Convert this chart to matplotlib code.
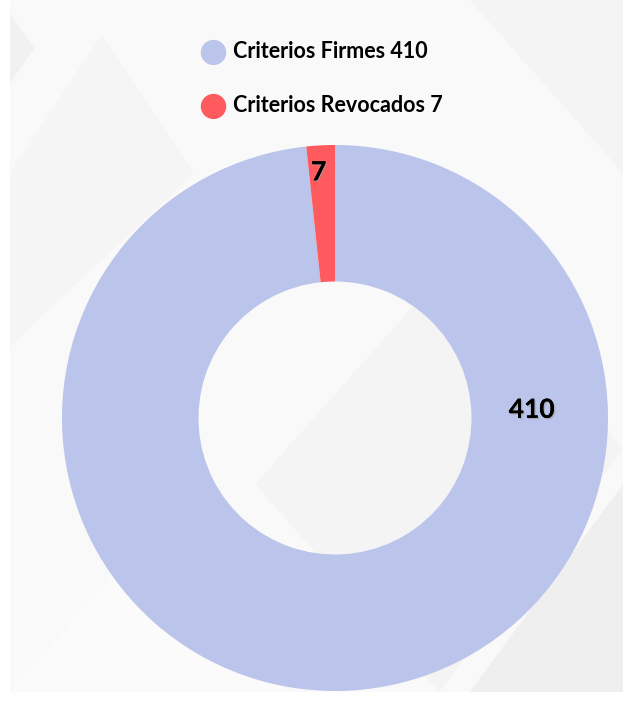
import numpy as np
import matplotlib.pyplot as plt
from matplotlib.patches import Polygon
import matplotlib.patheffects as pe

labels = ['Criterios Firmes', 'Criterios Revocados']
values = [410, 7]
colors = ['#bbc4ea', '#ff5a5e']

W, H = 623, 702
fig = plt.figure(figsize=(W / 100, H / 100), dpi=100)
fig.patch.set_facecolor('white')

# background panel with soft diagonal shapes
bg = fig.add_axes([10 / W, 10 / H, 1 - 10 / W, 1 - 10 / H])
bg.set_xlim(0, 1)
bg.set_ylim(0, 1)
bg.axis('off')
bg.add_patch(plt.Rectangle((0, 0), 1, 1, color='#f9f9f9', zorder=0))
shapes = [
    ([(0.0, 0.75), (0.15, 0.95), (0.3, 0.75), (0.0, 0.5)], '#f5f5f5'),
    ([(0.4, 0.3), (0.75, 0.65), (1.0, 0.35), (0.7, 0.0)], '#f4f4f4'),
    ([(0.75, 0.0), (1.0, 0.3), (1.0, 0.0)], '#efefef'),
    ([(0.0, 0.0), (0.25, 0.25), (0.45, 0.0)], '#fbfbfb'),
    ([(0.75, 1.0), (1.0, 0.75), (1.0, 1.0)], '#f4f4f4'),
    ([(0.0, 0.88), (0.04, 0.93), (0.0, 0.98)], '#f1f1f1'),
]
for pts, c in shapes:
    bg.add_patch(Polygon(pts, closed=True, color=c, zorder=1, lw=0))

# donut
cx, cy, r = 335, 418, 273
ax = fig.add_axes([(cx - r) / W, 1 - (cy + r) / H, 2 * r / W, 2 * r / H])
ax.set_aspect('equal')
wedges, _ = ax.pie(values, colors=colors, startangle=90, counterclock=False,
                   radius=1, wedgeprops=dict(width=0.5, linewidth=0))
ax.set_xlim(-1, 1)
ax.set_ylim(-1, 1)
ax.axis('off')

shadow = [pe.withSimplePatchShadow(offset=(1, -1), shadow_rgbFace='#999999', alpha=0.6), pe.Normal()]
label_pos = [(0.72, 0.03), (-0.06, 0.90)]
for v, (x, y) in zip(values, label_pos):
    ax.text(x, y, str(v), ha='center', va='center', fontsize=19, fontweight='bold',
            color='black', family='Lato', path_effects=shadow)

# legend
for i, (lab, v, c) in enumerate(zip(labels, values, colors)):
    yy = 1 - (51 + 54 * i) / H
    fig.text(213 / W, yy, '\u25cf', color=c, fontsize=24, ha='center', va='center')
    fig.text(233 / W, yy, f'{lab} {v}', fontsize=15.5, fontweight='bold',
             ha='left', va='center', family='Lato')

fig.savefig('out.png', dpi=100)
